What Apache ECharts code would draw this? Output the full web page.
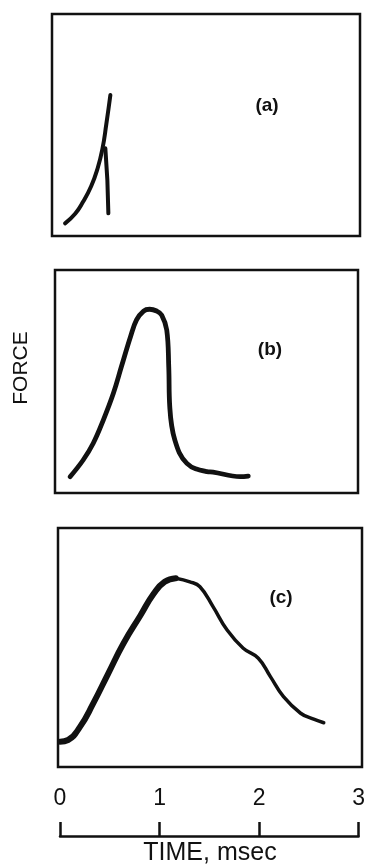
<!DOCTYPE html>
<html>
<head>
<meta charset="utf-8">
<script src="https://cdn.jsdelivr.net/npm/echarts@6/dist/echarts.min.js"></script>
<style>
  html, body { margin: 0; padding: 0; background: #ffffff; }
  #chart { width: 368px; height: 865px; }
</style>
</head>
<body>
<div id="chart"></div>
<script>
// Force-time pulses, time in msec, force in relative units (0-100 per panel)
const timeTicks = [0, 1, 2, 3];
const timeTitle = 'TIME, msec';
const forceTitle = 'FORCE';
const panelLabels = ['(a)', '(b)', '(c)'];

// (a) short pulse: rise, then abrupt drop
const curveARise = [
  [0.05, 5.7], [0.15, 10.0], [0.23, 15.5], [0.31, 22.5], [0.37, 30.0],
  [0.42, 39.0], [0.46, 50.5], [0.50, 63.5]
];
const curveADrop = [
  [0.45, 39.5], [0.47, 25.2], [0.48, 10.2]
];

// (b) medium pulse with a sharp fall
const curveB = [
  [0.10, 7.3], [0.23, 14.8], [0.33, 22.3], [0.43, 32.7], [0.53, 44.7],
  [0.61, 56.7], [0.70, 70.1], [0.76, 77.6], [0.83, 81.6], [0.89, 82.4],
  [0.96, 81.6], [1.01, 79.8], [1.06, 73.1], [1.08, 56.6], [1.09, 38.7],
  [1.14, 23.8], [1.26, 13.3], [1.46, 9.6], [1.52, 9.4], [1.79, 7.3],
  [1.87, 7.6]
];

// (c) long pulse: heavy rising stroke, lighter falling stroke
const curveCRise = [
  [0.00, 10.6], [0.08, 11.3], [0.20, 16.9], [0.33, 26.6], [0.48, 39.2],
  [0.63, 51.7], [0.80, 63.5], [0.93, 72.5], [1.04, 77.5], [1.15, 79.0]
];
const curveCFall = [
  [1.15, 79.0], [1.29, 77.5], [1.39, 75.4], [1.52, 67.1], [1.66, 57.3],
  [1.82, 49.7], [1.97, 45.5], [2.09, 37.8], [2.22, 29.4], [2.39, 22.5],
  [2.52, 20.0], [2.62, 18.5]
];

const ink = '#111111';
const fontFamily = '"Liberation Sans", "DejaVu Sans", sans-serif';

const chart = echarts.init(document.getElementById('chart'), null, { renderer: 'canvas' });

const frame = { show: true, borderColor: ink, borderWidth: 2.5, backgroundColor: 'transparent' };

function hiddenX(idx, min, max) {
  return { type: 'value', gridIndex: idx, min: min, max: max, show: false };
}
function hiddenY(idx) {
  return { type: 'value', gridIndex: idx, min: 0, max: 100, show: false };
}
function trace(idx, data, width, smooth) {
  return {
    type: 'line', xAxisIndex: idx, yAxisIndex: idx, data: data,
    showSymbol: false, smooth: smooth, animation: false, silent: true,
    lineStyle: { color: ink, width: width, cap: 'round', join: 'round' }
  };
}

chart.setOption({
  animation: false,
  backgroundColor: '#ffffff',
  grid: [
    Object.assign({ left: 52, right: 8, top: 14, height: 222 }, frame),
    Object.assign({ left: 55, right: 10, top: 270, height: 223 }, frame),
    Object.assign({ left: 58, right: 6, top: 528, height: 239 }, frame),
    { left: 60, right: 6.3, top: 826, height: 10, show: false }
  ],
  xAxis: [
    hiddenX(0, -0.08, 2.98),
    hiddenX(1, -0.05, 2.96),
    hiddenX(2, -0.02, 3.0),
    {
      type: 'value', gridIndex: 3, position: 'top', min: 0, max: 3, interval: 1,
      axisLine: { show: true, lineStyle: { color: ink, width: 2.5 } },
      axisTick: { show: true, inside: false, length: 14, lineStyle: { color: ink, width: 2.5 } },
      splitLine: { show: false },
      axisLabel: {
        color: ink, fontSize: 23, fontFamily: fontFamily, margin: 16,
        formatter: function (v) { return timeTicks.indexOf(v) >= 0 ? String(v) : ''; }
      }
    }
  ],
  yAxis: [hiddenY(0), hiddenY(1), hiddenY(2), { type: 'value', gridIndex: 3, show: false }],
  series: [
    trace(0, curveARise, 4, 0.5),
    trace(0, curveADrop, 4, 0),
    trace(1, curveB, 4.8, 0.4),
    trace(2, curveCRise, 6, 0.5),
    trace(2, curveCFall, 3.5, 0.45)
  ],
  graphic: [
    { type: 'text', x: 267, y: 106, style: { text: panelLabels[0], fill: ink, font: 'bold 19px ' + fontFamily, textAlign: 'center', textVerticalAlign: 'middle' } },
    { type: 'text', x: 270, y: 350, style: { text: panelLabels[1], fill: ink, font: 'bold 19px ' + fontFamily, textAlign: 'center', textVerticalAlign: 'middle' } },
    { type: 'text', x: 281, y: 598, style: { text: panelLabels[2], fill: ink, font: 'bold 19px ' + fontFamily, textAlign: 'center', textVerticalAlign: 'middle' } },
    { type: 'text', x: 21, y: 368, rotation: Math.PI / 2, style: { text: forceTitle, fill: ink, font: '21px ' + fontFamily, textAlign: 'center', textVerticalAlign: 'middle' } },
    { type: 'text', x: 210, y: 853, style: { text: timeTitle, fill: ink, font: '25px ' + fontFamily, textAlign: 'center', textVerticalAlign: 'middle' } }
  ]
});
</script>
</body>
</html>
